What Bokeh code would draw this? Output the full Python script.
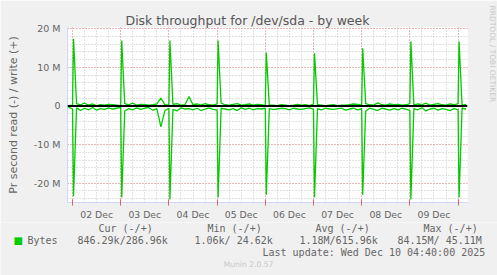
from bokeh.plotting import figure
from bokeh.layouts import column
from bokeh.models import Range1d, FixedTicker, Span, Label, Title
from bokeh.embed import file_html
from bokeh.resources import INLINE

# ---- data (values in M bytes/s; time in hours since 02 Dec 00:00) ----
day_labels = ["02 Dec", "03 Dec", "04 Dec", "05 Dec", "06 Dec", "07 Dec", "08 Dec", "09 Dec"]
label_hours = [12, 36, 60, 84, 108, 132, 156, 180]
midnight_hours = [0, 24, 48, 72, 96, 120, 144, 168, 192]

# 2-hourly samples starting at -2 h
write_base = [0.1, 0.2, 0.6, 0.3, 0.7, 0.2, 0.5, 0.1, 0.3, 0.2, 0.4, 0.3,
              0.2, 0.1, 0.6, 0.3, 0.7, 0.2, 0.4, 0.3, 0.2, 0.3, 0.5, 2.0,
              0.3, 0.2, 0.4, 0.6, 0.2, 0.3, 2.4, 0.3, 0.5, 0.2, 0.6, 0.3,
              0.2, 0.5, 0.7, 0.3, 0.2, 0.4, 0.6, 0.2, 0.3, 0.5, 0.2, 0.4,
              0.3, 0.1, 0.2, 0.2, 0.1, 0.3, 0.2, 0.1, 0.2, 0.4, 0.2, 0.3,
              0.1, 0.5, 0.3, 0.2, 0.1, 0.2, 0.3, 0.1, 0.2, 0.2, 0.3, 0.5,
              0.4, 0.2, 0.6, 0.3, 0.2, 0.8, 0.3, 0.2, 0.5, 0.3, 0.4, 0.2,
              0.3, 0.6, 0.2, 0.5, 0.3, 0.7, 0.2, 0.4, 0.6, 0.3, 0.2, 0.5,
              0.3, 0.6, 0.2, 0.4]
read_base = [0.3, 0.8, 0.5, 1.2, 0.6, 1.0, 0.4, 1.1, 0.7, 0.9, 0.5, 0.8,
             0.6, 0.4, 1.3, 0.7, 1.0, 0.5, 0.9, 0.6, 0.4, 1.1, 0.7, 5.4,
             1.2, 0.6, 0.9, 1.3, 0.5, 0.8, 0.7, 1.0, 0.6, 1.2, 0.8, 0.5,
             0.9, 1.1, 0.6, 0.8, 1.0, 0.7, 1.2, 0.5, 0.9, 0.6, 1.0, 0.7,
             0.8, 0.6, 0.7, 0.9, 0.8, 0.6, 0.7, 1.0, 0.6, 0.8, 0.9, 0.7,
             0.5, 0.9, 0.7, 1.0, 0.6, 0.8, 0.9, 0.7, 0.6, 1.1, 0.8, 0.6,
             1.0, 0.7, 1.3, 0.6, 0.9, 1.2, 0.6, 0.8, 1.1, 0.7, 1.0, 0.6,
             0.8, 1.2, 0.7, 1.0, 0.5, 1.3, 0.8, 0.6, 1.1, 0.7, 0.9, 1.2,
             0.7, 1.0, 0.6, 0.8]

# nightly bursts
spike_t = [0.5, 24.5, 48.5, 72.5, 96.5, 120.5, 144.5, 168.5, 192.5]
spike_write = [17.4, 16.9, 16.9, 16.9, 13.8, 13.6, 14.9, 16.7, 16.7]
spike_read = [23.4, 23.7, 24.2, 23.7, 23.0, 23.7, 23.0, 24.2, 23.7]

y_ticks = [-20, -10, 0, 10, 20]
y_tick_labels = ["-20 M", "-10 M", "0", "10 M", "20 M"]
y_minor = [-24, -22, -20, -18, -16, -14, -12, -10, -8, -6, -4, -2, 0,
           2, 4, 6, 8, 10, 12, 14, 16, 18, 20]
x_minor = [6 * k for k in range(33)]

legend_heads = ["Cur (-/+)", "Min (-/+)", "Avg (-/+)", "Max (-/+)"]
legend_vals = ["846.29k/286.96k", "1.06k/ 24.62k", "1.18M/615.96k", "84.15M/ 45.11M"]

# ---- assemble ----
base_t = [-2 + 2 * i for i in range(len(write_base))]
pts = sorted(zip(base_t + spike_t, write_base + spike_write, read_base + spike_read))
t_all = [q[0] for q in pts]
w_all = [q[1] for q in pts]
r_all = [-q[2] for q in pts]

X0, X1 = -2.5, 196.7
Y0, Y1 = -25.0, 20.3
W = 497
H_MAIN = 222
H_FOOT = 275 - H_MAIN

MGRID = "#F08A8A"
GRID = "#C4C4C4"
AXIS = "#CFD6F8"
FONT = "#666666"
LIGHT = "#C8C8C8"
GREEN = "#00CC00"

p = figure(width=W, height=H_MAIN, output_backend="svg", toolbar_location=None,
           x_range=Range1d(X0, X1), y_range=Range1d(Y0, Y1),
           min_border_left=67, min_border_right=30, min_border_top=27, min_border_bottom=19,
           background_fill_color="white", border_fill_color="#F0F0F0",
           outline_line_color=None)

p.title.text = "Disk throughput for /dev/sda - by week"
p.title.align = "left"
p.title.offset = 58
p.title.standoff = 0
p.title.text_font = "DejaVu Sans"
p.title.text_font_size = "12.5px"
p.title.text_font_style = "normal"
p.title.text_color = "#555555"

# spacer + vertical credit on the right
p.add_layout(Title(text=" ", standoff=5, text_font_size="10px",
                   text_font_style="normal", text_color=LIGHT), "right")
p.add_layout(Title(text="RRDTOOL / TOBI OETIKER", align="left", offset=-22,
                   vertical_align="top", standoff=0, text_font="DejaVu Sans",
                   text_font_size="7.5px", text_font_style="normal",
                   text_color=LIGHT), "right")

# grids
p.xgrid.ticker = FixedTicker(ticks=midnight_hours, minor_ticks=x_minor)
p.xgrid.grid_line_color = MGRID
p.xgrid.grid_line_dash = "1 2"
p.xgrid.minor_grid_line_color = GRID
p.xgrid.minor_grid_line_dash = "1 2"
p.ygrid.ticker = FixedTicker(ticks=y_ticks, minor_ticks=y_minor)
p.ygrid.grid_line_color = MGRID
p.ygrid.grid_line_dash = "1 2"
p.ygrid.minor_grid_line_color = GRID
p.ygrid.minor_grid_line_dash = "1 2"

# axes
xa = p.xaxis[0]
xa.ticker = FixedTicker(ticks=label_hours, minor_ticks=midnight_hours)
xa.major_label_overrides = {h: s for h, s in zip(label_hours, day_labels)}
xa.major_tick_line_color = None
xa.major_tick_in = 0
xa.major_tick_out = 0
xa.minor_tick_line_color = "#E06060"
xa.minor_tick_in = 3
xa.minor_tick_out = 3
xa.axis_line_color = AXIS
xa.major_label_standoff = 3
xa.major_label_text_font = "DejaVu Sans"
xa.major_label_text_font_size = "9.3px"
xa.major_label_text_color = FONT

ya = p.yaxis[0]
ya.ticker = FixedTicker(ticks=y_ticks)
ya.major_label_overrides = {v: s for v, s in zip(y_ticks, y_tick_labels)}
ya.major_tick_line_color = None
ya.major_tick_in = 0
ya.major_tick_out = 0
ya.minor_tick_line_color = None
ya.minor_tick_in = 0
ya.minor_tick_out = 0
ya.axis_line_color = AXIS
ya.major_label_standoff = 7
ya.major_label_text_font = "DejaVu Sans"
ya.major_label_text_font_size = "9.5px"
ya.major_label_text_color = FONT
ya.axis_label = "Pr second read (-) / write (+)"
ya.axis_label_standoff = 11
ya.axis_label_text_font = "DejaVu Sans"
ya.axis_label_text_font_size = "11px"
ya.axis_label_text_font_style = "normal"
ya.axis_label_text_color = FONT

# data
p.line(t_all, w_all, line_color=GREEN, line_width=1.3)
p.line(t_all, r_all, line_color=GREEN, line_width=1.3)
p.add_layout(Span(location=0, dimension="width", line_color="black", line_width=2))

# ---- footer (legend / stats) ----
f = figure(width=W, height=H_FOOT, output_backend="svg", toolbar_location=None,
           x_range=Range1d(0, W), y_range=Range1d(H_FOOT, 0),
           x_axis_type=None, y_axis_type=None, min_border=0,
           min_border_left=0, min_border_right=0, min_border_top=0, min_border_bottom=0,
           background_fill_color="#F0F0F0", border_fill_color="#F0F0F0",
           outline_line_color=None)
f.title.visible = False
f.grid.visible = False

for fig in (p, f):
    if hasattr(fig, "frame_align"):
        fig.frame_align = False

MONO = "DejaVu Sans Mono"

def lab(X, Y, text, size, font=MONO, color=FONT, align="left"):
    f.add_layout(Label(x=X, y=Y - H_MAIN, text=text, text_font=font,
                       text_font_size=size, text_color=color,
                       text_align=align, text_baseline="middle"))

for X, s in zip([98, 207, 315, 423], legend_heads):
    lab(X, 228, s, "10px")
lab(13, 240, "\u25A0", "10px", font="DejaVu Sans", color=GREEN)
lab(27, 240, "Bytes", "10px")
for X, s in zip([77, 194, 299, 397], legend_vals):
    lab(X, 240, s, "10px")
lab(262, 252, "Last update: Wed Dec 10 04:40:00 2025", "10px")
lab(248, 264, "Munin 2.0.57", "7.6px", font="DejaVu Sans", color=LIGHT, align="center")

open("out.html", "w").write(file_html(column(p, f), INLINE))
